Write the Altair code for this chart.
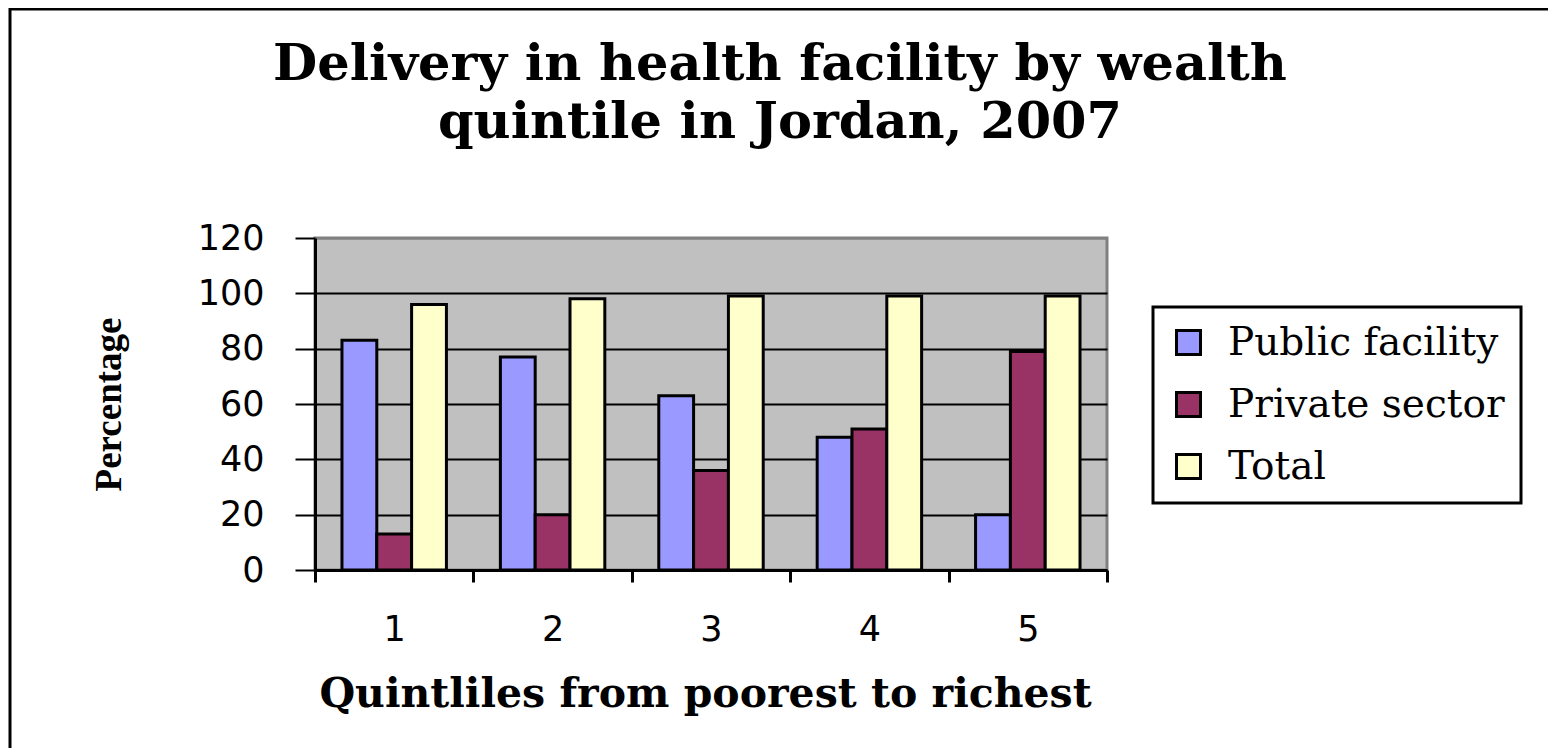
import altair as alt
import pandas as pd

quintiles = ["1", "2", "3", "4", "5"]
series = ["Public facility", "Private sector", "Total"]
public = [83, 77, 63, 48, 20]
private = [13, 20, 36, 51, 79]
total = [96, 98, 99, 99, 99]
colors = ["#9999FF", "#993366", "#FFFFCC"]
y_ticks = [0, 20, 40, 60, 80, 100, 120]
title_lines = ["Delivery in health facility by wealth", "quintile in Jordan, 2007"]

rows = []
for i, q in enumerate(quintiles):
    for s, vals in zip(series, [public, private, total]):
        rows.append({"quintile": q, "series": s, "value": vals[i]})
df = pd.DataFrame(rows)
one = pd.DataFrame({"a": [0]})

frame = alt.Chart(one).mark_rect(
    fillOpacity=0, stroke="black", strokeWidth=3
).encode(
    x=alt.value(-305), x2=alt.value(1600), y=alt.value(-229), y2=alt.value(800)
)

title = alt.Chart(one).mark_text(
    font="DejaVu Serif", fontSize=51, fontWeight="bold", color="black",
    align="center", baseline="alphabetic", lineHeight=58,
).encode(
    x=alt.value(465), y=alt.value(-158), text=alt.value(title_lines)
)

bars = alt.Chart(df).mark_bar(stroke="black", strokeWidth=3, opacity=1).encode(
    x=alt.X(
        "quintile:N",
        sort=quintiles,
        scale=alt.Scale(paddingInner=0, paddingOuter=0),
        axis=alt.Axis(
            title="Quintliles from poorest to richest",
            labelAngle=0,
            labelFont="DejaVu Sans",
            labelFontSize=35,
            labelColor="black",
            labelPadding=30,
            tickBand="extent",
            tickSize=12,
            tickWidth=3,
            tickColor="black",
            domainColor="black",
            domainWidth=3,
            grid=False,
            titleFont="DejaVu Serif",
            titleFontSize=41,
            titleFontWeight="bold",
            titleColor="black",
            titleX=390,
            titleY=136,
            titleBaseline="alphabetic",
        ),
    ),
    xOffset=alt.XOffset("series:N", sort=series,
                        scale=alt.Scale(paddingInner=0, paddingOuter=0.775)),
    y=alt.Y(
        "value:Q",
        scale=alt.Scale(domain=[0, 120], nice=False),
        axis=alt.Axis(
            title="Percentage",
            values=y_ticks,
            labelFont="DejaVu Sans",
            labelFontSize=35,
            labelColor="black",
            labelPadding=31,
            tickSize=20,
            tickWidth=2,
            tickColor="black",
            domainColor="black",
            domainWidth=3,
            grid=True,
            gridColor=alt.condition(alt.datum.value == 120, alt.value("#808080"), alt.value("black")),
            gridWidth=2,
            gridOpacity=1,
            titleFont="Liberation Serif",
            titleFontSize=37,
            titleFontWeight="bold",
            titleColor="black",
            titleX=-206,
            titleY=166,
            titleAlign="center",
            titleBaseline="middle",
        ),
    ),
    color=alt.Color(
        "series:N",
        sort=series,
        scale=alt.Scale(domain=series, range=colors),
        legend=alt.Legend(
            title=None,
            orient="none",
            legendX=838,
            legendY=69,
            fillColor="white",
            strokeColor="black",
            padding=16,
            rowPadding=22,
            symbolType="square",
            symbolSize=576,
            symbolStrokeColor="black",
            symbolStrokeWidth=3,
            symbolOpacity=1,
            labelFont="DejaVu Serif",
            labelFontSize=39,
            labelColor="black",
            labelOffset=20,
            labelLimit=500,
        ),
    ),
)

chart = alt.layer(frame, title, bars).properties(
    width=792,
    height=332,
    autosize=alt.AutoSizeParams(type="none"),
    padding={"left": 307, "top": 230, "right": 441, "bottom": 178},
).configure(background="white").configure_view(
    fill="#C0C0C0", stroke="#808080", strokeWidth=3
).configure_legend(strokeWidth=3)

chart.save("out.html", embed_options={"renderer": "svg", "actions": False})
